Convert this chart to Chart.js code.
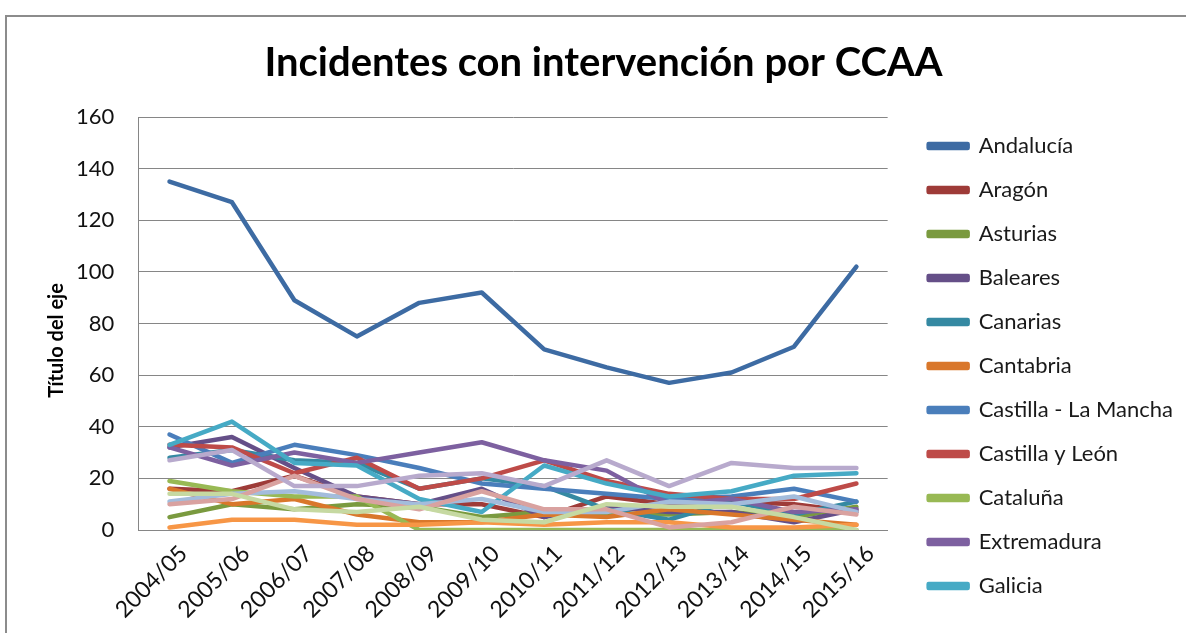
<!DOCTYPE html>
<html>
<head>
<meta charset="utf-8">
<script src="https://cdn.jsdelivr.net/npm/chart.js@4.4.1/dist/chart.umd.min.js"></script>
<style>
  html, body { margin: 0; padding: 0; background: #fff; }
  #marco { position: absolute; left: 5px; top: 15px; width: 1200px; height: 640px;
           border-left: 2px solid #8c8c8c; border-top: 2px solid #8c8c8c; }
  #contenedor { position: absolute; left: 0; top: 0; width: 1186px; height: 633px; }
</style>
</head>
<body>
<div id="marco"></div>
<div id="contenedor"><canvas id="grafico"></canvas></div>
<script>
// Datos
const temporadas = ["2004/05", "2005/06", "2006/07", "2007/08", "2008/09", "2009/10",
                    "2010/11", "2011/12", "2012/13", "2013/14", "2014/15", "2015/16"];

const andalucia        = [135, 127, 89, 75, 88, 92, 70, 63, 57, 61, 71, 102];
const aragon           = [16, 15, 21, 13, 10, 10, 5, 13, 10, 11, 10, 7];
const asturias         = [5, 10, 8, 10, 9, 5, 7, 6, 6, 7, 5, 9];
const baleares         = [32, 36, 24, 13, 10, 16, 5, 9, 7, 7, 3, 8];
const canarias         = [28, 31, 27, 26, 16, 20, 17, 8, 4, 11, 6, 11];
const cantabria        = [16, 10, 12, 6, 3, 3, 6, 5, 8, 6, 4, 2];
const castillaLaMancha = [37, 26, 33, 29, 24, 18, 16, 14, 12, 13, 16, 11];
const castillaLeon     = [33, 32, 22, 28, 16, 20, 27, 19, 14, 12, 12, 18];
const cataluna         = [19, 15, 13, 13, 0, 0, 0, 0, 0, 0, 0, 0];
const extremadura      = [32, 25, 30, 26, 30, 34, 27, 23, 10, 12, 7, 8];
const galicia          = [33, 42, 26, 25, 12, 7, 25, 18, 13, 15, 21, 22];
const laRioja          = [1, 4, 4, 2, 2, 3, 2, 3, 3, 1, 1, 2];
const madrid           = [11, 14, 15, 12, 10, 12, 7, 7, 11, 10, 13, 7];
const murcia           = [10, 12, 21, 12, 8, 15, 8, 8, 1, 3, 9, 6];
const navarra          = [14, 14, 8, 7, 9, 4, 3, 10, 9, 9, 5, 0];
const paisVasco        = [27, 31, 17, 17, 21, 22, 17, 27, 17, 26, 24, 24];

const ccaa = ["Andalucía", "Aragón", "Asturias", "Baleares", "Canarias", "Cantabria",
              "Castilla - La Mancha", "Castilla y León", "Cataluña", "Extremadura", "Galicia",
              "La Rioja", "Madrid", "Murcia", "Navarra", "País Vasco"];
const series = [andalucia, aragon, asturias, baleares, canarias, cantabria,
                castillaLaMancha, castillaLeon, cataluna, extremadura, galicia,
                laRioja, madrid, murcia, navarra, paisVasco];
const colores = ["#3d6ba3", "#9e3b38", "#7a9a3f", "#654f88", "#3589a2", "#d9772b",
                 "#4a7ebb", "#be4b48", "#98b954", "#7d60a0", "#46aac5",
                 "#f79646", "#a3bcdc", "#d9a2a0", "#c6d9a2", "#b8aacd"];

const fuente = "Lato, 'Liberation Sans', sans-serif";

const datasets = series.map((valores, i) => ({
  label: ccaa[i],
  data: valores,
  borderColor: colores[i],
  backgroundColor: colores[i],
  borderWidth: 4.5,
  pointRadius: 0,
  pointHoverRadius: 0,
  tension: 0,
  fill: false,
  borderJoinStyle: "round",
  borderCapStyle: "round",
  order: -i, // las series posteriores encima, como en Excel
}));

new Chart(document.getElementById("grafico"), {
  type: "line",
  data: { labels: temporadas, datasets: datasets },
  options: {
    responsive: true,
    maintainAspectRatio: false,
    animation: false,
    layout: { padding: { left: 24, top: 0, right: 3, bottom: 10 } },
    plugins: {
      title: {
        display: true,
        text: "Incidentes con intervención por CCAA",
        color: "#000",
        font: { family: fuente, size: 40, weight: "bold" },
        padding: { top: 39, bottom: 30 },
      },
      legend: {
        position: "right",
        align: "start",
        maxWidth: 320,
        title: { display: true, text: " ", font: { size: 10 }, padding: { top: 101, bottom: 0 } },
        labels: {
          boxWidth: 39,
          boxHeight: 4,
          padding: 22,
          color: "#1a1a1a",
          font: { family: fuente, size: 22 },
          filter: (item) => item.datasetIndex < 11,
          sort: (a, b) => a.datasetIndex - b.datasetIndex,
        },
      },
      tooltip: { enabled: false },
    },
    scales: {
      x: {
        offset: true,
        grid: { display: false },
        border: { display: true, color: "#868686", width: 1 },
        ticks: {
          color: "#111",
          font: { family: fuente, size: 23 },
          maxRotation: 45,
          minRotation: 45,
          padding: 2,
          labelOffset: 14,
        },
        afterFit: (escala) => { escala.height = 93; },
      },
      y: {
        min: 0,
        max: 160,
        grid: { color: "#868686", lineWidth: 1, drawTicks: false },
        border: { display: true, color: "#868686", width: 1 },
        ticks: {
          stepSize: 20,
          color: "#111",
          font: { family: fuente, size: 22 },
          padding: 24,
        },
        title: {
          display: true,
          text: "Título del eje\u00a0\u00a0\u00a0\u00a0\u00a0\u00a0\u00a0",
          color: "#000",
          font: { family: fuente, size: 20, weight: "bold" },
          padding: { top: 21, bottom: -17 },
        },
      },
      // eje vacío a la derecha: deja el hueco entre el área de trazado y la leyenda
      hueco: {
        type: "linear",
        position: "right",
        display: true,
        grid: { display: false },
        border: { display: false },
        ticks: { display: false },
        afterFit: (escala) => { escala.width = 19; },
      },
    },
  },
});
</script>
</body>
</html>
